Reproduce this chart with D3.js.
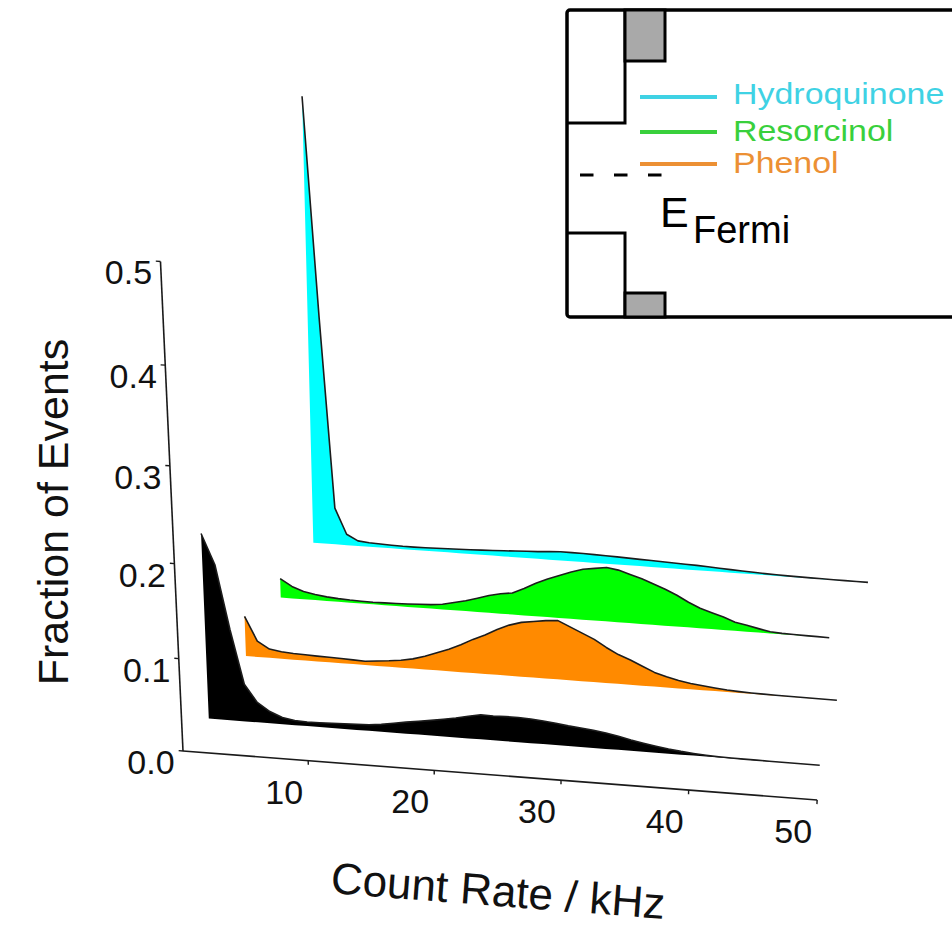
<!DOCTYPE html>
<html>
<head>
<meta charset="utf-8">
<script src="https://cdn.jsdelivr.net/npm/d3@7"></script>
<style>
  body { margin: 0; background: #ffffff; }
  svg { display: block; }
</style>
</head>
<body>
<svg id="chart" width="952" height="944"></svg>
<script>
// ---- Data: fraction of events per 1 kHz count-rate bin ----
const countRate = [0.5, 1.5, 2.5, 3.5, 4.5, 5.5, 6.5, 7.5, 8.5, 9.5,
  10.5, 11.5, 12.5, 13.5, 14.5, 15.5, 16.5, 17.5, 18.5, 19.5,
  20.5, 21.5, 22.5, 23.5, 24.5, 25.5, 26.5, 27.5, 28.5, 29.5,
  30.5, 31.5, 32.5, 33.5, 34.5, 35.5, 36.5, 37.5, 38.5, 39.5,
  40.5, 41.5, 42.5, 43.5, 44.5, 45.5, 46.5, 47.5, 48.5, 49.5];

const seriesNames = ["Blank", "Phenol", "Resorcinol", "Hydroquinone"];

const blank = [0.200, 0.168, 0.100, 0.041, 0.022, 0.013, 0.0075, 0.0052, 0.0045, 0.0048,
  0.0053, 0.0058, 0.0062, 0.0068, 0.0082, 0.0105, 0.0128, 0.0148, 0.0168, 0.0190,
  0.0215, 0.0245, 0.0272, 0.0268, 0.0272, 0.0272, 0.0266, 0.0255, 0.0240, 0.0222,
  0.0210, 0.0195, 0.0175, 0.0150, 0.0120, 0.0095, 0.0072, 0.0052, 0.0036, 0.0024,
  0.0015, 0.0009, 0.0006, 0.0004, 0.0003, 0.0002, 0.0001, 0.0001, 0, 0];

const phenol = [0.045, 0.018, 0.010, 0.008, 0.007, 0.0065, 0.006, 0.0057, 0.0053, 0.0048,
  0.0043, 0.0055, 0.0068, 0.0085, 0.011, 0.015, 0.020, 0.025, 0.031, 0.038,
  0.044, 0.051, 0.057, 0.061, 0.063, 0.065, 0.066, 0.060, 0.054, 0.048,
  0.040, 0.033, 0.028, 0.022, 0.016, 0.012, 0.0088, 0.0066, 0.005, 0.0035,
  0.0023, 0.0015, 0.001, 0.0007, 0.0005, 0.0003, 0.0002, 0.0001, 0, 0];

const resorcinol = [0.022, 0.014, 0.009, 0.0065, 0.0048, 0.0037, 0.003, 0.0027, 0.0025, 0.0027,
  0.003, 0.0034, 0.004, 0.0046, 0.006, 0.009, 0.012, 0.016, 0.020, 0.023,
  0.025, 0.031, 0.038, 0.044, 0.049, 0.054, 0.058, 0.060, 0.062, 0.060,
  0.056, 0.052, 0.047, 0.042, 0.036, 0.029, 0.023, 0.019, 0.015, 0.010,
  0.0075, 0.0045, 0.0018, 0.001, 0.0007, 0.0004, 0.0002, 0];

const hydroquinone = [0.50, 0.26, 0.043, 0.013, 0.006, 0.0048, 0.0042, 0.0037, 0.0034, 0.0034,
  0.0036, 0.004, 0.0043, 0.0047, 0.005, 0.0055, 0.006, 0.0067, 0.0073, 0.008,
  0.0085, 0.0095, 0.0103, 0.0103, 0.0102, 0.0098, 0.0094, 0.009, 0.0085, 0.008,
  0.0076, 0.0071, 0.0066, 0.0061, 0.0057, 0.005, 0.0043, 0.0036, 0.003, 0.0024,
  0.0017, 0.0013, 0.001, 0.0008, 0.0006, 0.0005, 0.0004, 0.0003, 0.0002, 0.0001];

const seriesValues = [blank, phenol, resorcinol, hydroquinone];
const seriesFill = ["#000000", "#ff8a00", "#00ff00", "#00ffff"];

const xTickValues = [10, 20, 30, 40, 50];
const yTickValues = [0, 0.1, 0.2, 0.3, 0.4, 0.5];

const legendNames = ["Hydroquinone", "Resorcinol", "Phenol"];
const legendColors = ["#3fd2e4", "#39d03c", "#ec9034"];

// ---- Scales (world units before perspective) ----
const xScale = d3.scaleLinear().domain([0, 50]).range([0, 624]);
const yScale = d3.scaleLinear().domain([0, 0.5]).range([0, 455.5]);
const zScale = d3.scalePoint().domain(seriesNames).range([0, 4]).padding(0.5);

// ---- Perspective projection of the 3D box onto the page ----
const origin = [183, 751];
const ex = [1, 0.07724];      // screen direction of the count-rate axis
const ey = [-0.046, -1];      // screen direction of the fraction axis
const ez = [40, -66.9];       // screen step of one depth unit
const px = -2.564e-5, py = -1.526e-4, pz = 0.0349;

function project(xv, yv, zv) {
  const X = xScale(xv), Y = yScale(yv), Z = zv;
  const w = 1 + px * X + py * Y + pz * Z;
  return [
    origin[0] + (X * ex[0] + Y * ey[0] + Z * ez[0]) / w,
    origin[1] + (X * ex[1] + Y * ey[1] + Z * ez[1]) / w
  ];
}

const svg = d3.select("#chart");
svg.append("rect").attr("width", 952).attr("height", 944).attr("fill", "#ffffff");

const font = "'Liberation Sans', Arial, Helvetica, sans-serif";
const g = svg.append("g");

// ---- Axes ----
const axisColor = "#1a1a1a";
const x0 = xScale.domain()[0], x1 = xScale.domain()[1];
const y0 = yScale.domain()[0], y1 = yScale.domain()[1];

const seg = d3.line();
g.append("path")
  .attr("d", seg([project(x0, 0, 0), project(x1, 0, 0)]))
  .attr("stroke", axisColor).attr("stroke-width", 1.6).attr("fill", "none");
g.append("path")
  .attr("d", seg([project(0, y0, 0), project(0, y1, 0)]))
  .attr("stroke", axisColor).attr("stroke-width", 1.6).attr("fill", "none");

// x ticks and labels
xTickValues.forEach(v => {
  const a = project(v, 0, 0), b = project(v, -0.0045, 0);
  g.append("path").attr("d", seg([a, b]))
    .attr("stroke", axisColor).attr("stroke-width", 1.4);
  g.append("text")
    .attr("x", a[0] - 24).attr("y", a[1] + 43)
    .attr("text-anchor", "middle")
    .attr("font-family", font).attr("font-size", 34)
    .attr("fill", "#111")
    .text(d3.format("d")(v));
});

// y ticks and labels
yTickValues.forEach(v => {
  const a = project(0, v, 0), b = project(-0.35, v, 0);
  g.append("path").attr("d", seg([a, b]))
    .attr("stroke", axisColor).attr("stroke-width", 1.4);
  g.append("text")
    .attr("x", a[0] - 32).attr("y", a[1] + 23)
    .attr("text-anchor", "middle")
    .attr("font-family", font).attr("font-size", 34)
    .attr("fill", "#111")
    .text(d3.format(".1f")(v));
});

// axis titles
g.append("text")
  .attr("transform", "translate(68,512) rotate(-90)")
  .attr("text-anchor", "middle")
  .attr("font-family", font).attr("font-size", 43)
  .attr("fill", "#111")
  .text("Fraction of Events");

const axisAngle = Math.atan2(project(x1, 0, 0)[1] - project(x0, 0, 0)[1],
                             project(x1, 0, 0)[0] - project(x0, 0, 0)[0]) * 180 / Math.PI;
g.append("text")
  .attr("transform", `translate(497,906) rotate(${axisAngle})`)
  .attr("text-anchor", "middle")
  .attr("font-family", font).attr("font-size", 44)
  .attr("fill", "#111")
  .text("Count Rate / kHz");

// ---- Waterfall traces, drawn back to front ----
const order = d3.range(seriesNames.length).reverse();
order.forEach(i => {
  const name = seriesNames[i];
  const z = zScale(name);
  const pts = seriesValues[i].map((v, k) => ({ x: countRate[k], y: v }));

  const area = d3.area()
    .x0(d => project(d.x, 0, z)[0])
    .y0(d => project(d.x, 0, z)[1])
    .x1(d => project(d.x, d.y, z)[0])
    .y1(d => project(d.x, d.y, z)[1]);

  const line = d3.line()
    .x(d => project(d.x, d.y, z)[0])
    .y(d => project(d.x, d.y, z)[1]);

  g.append("path")
    .attr("d", area(pts))
    .attr("fill", seriesFill[i])
    .attr("stroke", "none");

  g.append("path")
    .attr("d", line(pts))
    .attr("fill", "none")
    .attr("stroke", "#1c1c1c")
    .attr("stroke-width", 1.6)
    .attr("stroke-linejoin", "round");
});

// ---- Inset: energy-level sketch with legend ----
const inset = svg.append("g");
inset.append("rect")
  .attr("x", 567).attr("y", 10).attr("width", 420).attr("height", 307)
  .attr("rx", 3)
  .attr("fill", "#ffffff").attr("stroke", "#000").attr("stroke-width", 3.5);

// electrode band edges
inset.append("path").attr("d", "M567,123 H625 V10")
  .attr("fill", "none").attr("stroke", "#000").attr("stroke-width", 3);
inset.append("path").attr("d", "M567,233 H625 V317")
  .attr("fill", "none").attr("stroke", "#000").attr("stroke-width", 3);
inset.append("rect").attr("x", 625).attr("y", 10).attr("width", 40).attr("height", 51)
  .attr("fill", "#a9a9a9").attr("stroke", "#000").attr("stroke-width", 3);
inset.append("rect").attr("x", 625).attr("y", 293).attr("width", 40).attr("height", 24)
  .attr("fill", "#a9a9a9").attr("stroke", "#000").attr("stroke-width", 3);

// molecular levels
const levelY = [97, 132, 164];
const labelY = [104, 141, 173];
legendNames.forEach((n, i) => {
  inset.append("line")
    .attr("x1", 640).attr("x2", 717).attr("y1", levelY[i]).attr("y2", levelY[i])
    .attr("stroke", legendColors[i]).attr("stroke-width", 4);
  const t = inset.append("text")
    .attr("x", 733).attr("y", labelY[i])
    .attr("font-family", font).attr("font-size", 29)
    .attr("fill", legendColors[i])
    .text(n);
  // slightly widened lettering
  const len = t.node().getComputedTextLength();
  t.attr("textLength", len * 1.17).attr("lengthAdjust", "spacingAndGlyphs");
});

// Fermi level
inset.append("line")
  .attr("x1", 580).attr("x2", 662).attr("y1", 175).attr("y2", 175)
  .attr("stroke", "#000").attr("stroke-width", 3)
  .attr("stroke-dasharray", "13.5,20.5");
inset.append("text")
  .attr("x", 660).attr("y", 227)
  .attr("font-family", font).attr("font-size", 43).attr("fill", "#000")
  .text("E");
inset.append("text")
  .attr("x", 693).attr("y", 243)
  .attr("font-family", font).attr("font-size", 38).attr("fill", "#000")
  .text("Fermi");
</script>
</body>
</html>
